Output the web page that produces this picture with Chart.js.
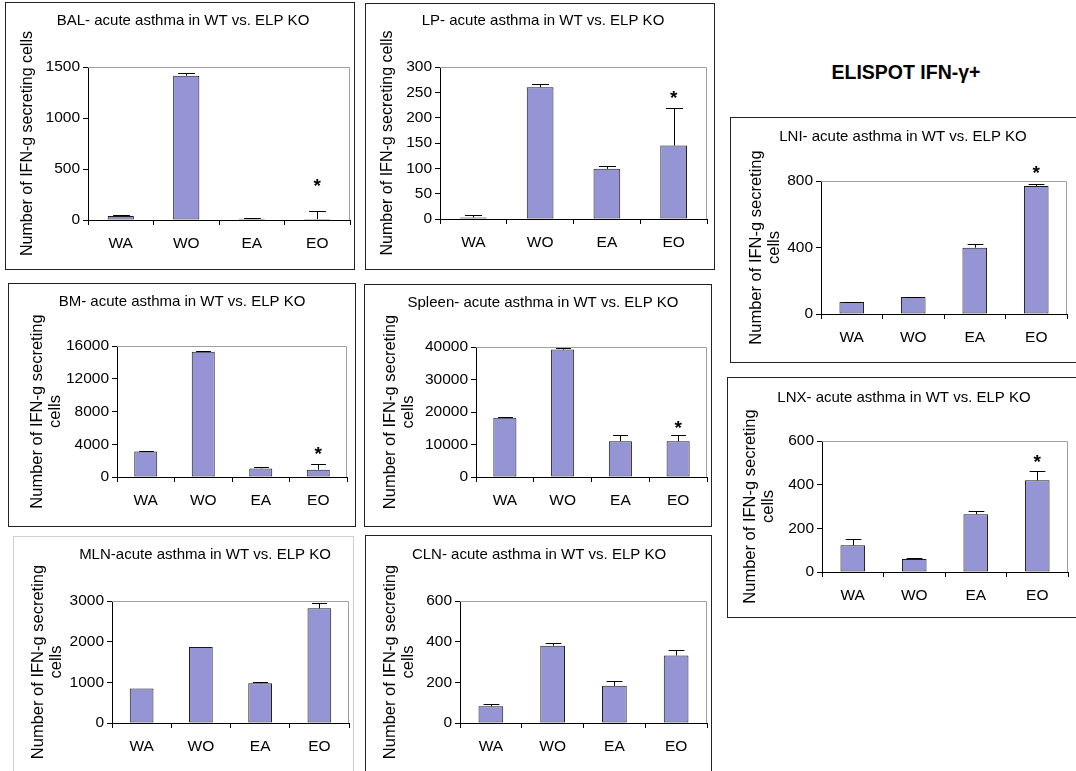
<!DOCTYPE html>
<html>
<head>
<meta charset="utf-8">
<title>ELISPOT IFN-γ+</title>
<script src="https://cdn.jsdelivr.net/npm/chart.js@4.4.1/dist/chart.umd.min.js"></script>
<style>
  body { margin: 0; background: #fff; }
  #page { position: relative; width: 1076px; height: 771px; overflow: hidden; font-family: "Liberation Sans", Arial, sans-serif; }
  .box { position: absolute; box-sizing: border-box; border: 1.5px solid #222; }
  canvas { position: absolute; }
  #heading { position: absolute; left: 796px; top: 62px; width: 220px; text-align: center; font-weight: bold; font-size: 19.5px; line-height: 20px; color: #000; }
</style>
</head>
<body>
<div id="page">
  <div id="heading">ELISPOT IFN-γ+</div>
</div>
<script>
const groups = ["WA", "WO", "EA", "EO"];

// BAL
const balCells = [38, 1415, 12, 10];
const balSem = [8, 25, 8, 80];
const balStars = [null, null, null, 380];
const balTicks = [0, 500, 1000, 1500];

// LP
const lpCells = [3, 260, 99, 145];
const lpSem = [4, 7, 5, 75];
const lpStars = [null, null, null, 248];
const lpTicks = [0, 50, 100, 150, 200, 250, 300];

// LNI
const lniCells = [72, 102, 399, 770];
const lniSem = [2, 2, 24, 14];
const lniStars = [null, null, null, 878];
const lniTicks = [0, 400, 800];

// BM
const bmCells = [3120, 15300, 1050, 900];
const bmSem = [40, 60, 180, 700];
const bmStars = [null, null, null, 3400];
const bmTicks = [0, 4000, 8000, 12000, 16000];

// Spleen
const spleenCells = [18200, 39200, 11000, 11000];
const spleenSem = [150, 500, 2000, 2000];
const spleenStars = [null, null, null, 16600];
const spleenTicks = [0, 10000, 20000, 30000, 40000];

// LNX
const lnxCells = [122, 60, 265, 420];
const lnxSem = [28, 2, 15, 42];
const lnxStars = [null, null, null, 527];
const lnxTicks = [0, 200, 400, 600];

// MLN
const mlnCells = [850, 1870, 975, 2820];
const mlnSem = [0, 0, 25, 120];
const mlnStars = [null, null, null, null];
const mlnTicks = [0, 1000, 2000, 3000];

// CLN
const clnCells = [82, 380, 183, 332];
const clnSem = [12, 12, 25, 25];
const clnStars = [null, null, null, null];
const clnTicks = [0, 200, 400, 600];

const yLabelOne = ["Number of IFN-g secreting cells"];
const yLabelTwo = ["Number of IFN-g secreting", "cells"];

// box / plot = [left, top, right, bottom] on the page
const panels = [
  { title: "BAL- acute asthma in WT vs. ELP KO", cells: balCells, sem: balSem, stars: balStars, ticks: balTicks,
    yTitle: yLabelOne, box: [5, 2, 355, 270], plot: [88, 67, 350, 220], titleAt: [183, 21], yTitleX: 28 },
  { title: "LP- acute asthma in WT vs. ELP KO", cells: lpCells, sem: lpSem, stars: lpStars, ticks: lpTicks,
    yTitle: yLabelOne, box: [365, 3, 715, 270], plot: [440, 67, 707, 219], titleAt: [543, 21], yTitleX: 388 },
  { title: "LNI- acute asthma in WT vs. ELP KO", cells: lniCells, sem: lniSem, stars: lniStars, ticks: lniTicks,
    yTitle: yLabelTwo, box: [730, 117, 1080, 363], plot: [821, 181, 1067, 314], titleAt: [903, 137], yTitleX: 756 },
  { title: "BM- acute asthma in WT vs. ELP KO", cells: bmCells, sem: bmSem, stars: bmStars, ticks: bmTicks,
    yTitle: yLabelTwo, box: [8, 283, 356, 527], plot: [117, 346, 347, 477], titleAt: [182, 302], yTitleX: 37 },
  { title: "Spleen- acute asthma in WT vs. ELP KO", cells: spleenCells, sem: spleenSem, stars: spleenStars, ticks: spleenTicks,
    yTitle: yLabelTwo, box: [364, 284, 712, 527], plot: [476, 347, 707, 477], titleAt: [543, 303], yTitleX: 390 },
  { title: "LNX- acute asthma in WT vs. ELP KO", cells: lnxCells, sem: lnxSem, stars: lnxStars, ticks: lnxTicks,
    yTitle: yLabelTwo, box: [727, 377, 1080, 618], plot: [822, 441, 1068, 572], titleAt: [904, 398], yTitleX: 750 },
  { title: "MLN-acute asthma in WT vs. ELP KO", cells: mlnCells, sem: mlnSem, stars: mlnStars, ticks: mlnTicks,
    yTitle: yLabelTwo, box: [13, 536, 354, 780], plot: [112, 601, 349, 723], titleAt: [205, 555], yTitleX: 38, faint: true },
  { title: "CLN- acute asthma in WT vs. ELP KO", cells: clnCells, sem: clnSem, stars: clnStars, ticks: clnTicks,
    yTitle: yLabelTwo, box: [365, 535, 712, 772], plot: [460, 601, 707, 723], titleAt: [539, 555], yTitleX: 390 },
];

Chart.defaults.font.family = "'Liberation Sans', Arial, sans-serif";
Chart.defaults.color = "#000";

// grey top/right edge of the plot area
const plotFrame = {
  id: "plotFrame",
  beforeDatasetsDraw(chart) {
    const { ctx, chartArea: a } = chart;
    ctx.save();
    ctx.strokeStyle = "#a0a0a0";
    ctx.lineWidth = 1;
    ctx.beginPath();
    ctx.moveTo(a.left, Math.round(a.top) + 0.5);
    ctx.lineTo(Math.round(a.right) - 0.5, Math.round(a.top) + 0.5);
    ctx.lineTo(Math.round(a.right) - 0.5, a.bottom);
    ctx.stroke();
    ctx.restore();
  },
};

// upper error bars and significance stars
const errorBars = {
  id: "errorBars",
  afterDatasetsDraw(chart) {
    const ctx = chart.ctx;
    const yScale = chart.scales.y;
    const ds = chart.data.datasets[0];
    const meta = chart.getDatasetMeta(0);
    ctx.save();
    ctx.strokeStyle = "#000";
    ctx.fillStyle = "#000";
    ctx.lineWidth = 1;
    meta.data.forEach((bar, i) => {
      const x = Math.round(bar.x) + 0.5;
      const e = ds.sem[i];
      if (e) {
        const top = Math.round(yScale.getPixelForValue(ds.data[i] + e)) + 0.5;
        const cap = bar.width * 0.32;
        ctx.beginPath();
        ctx.moveTo(x, bar.y);
        ctx.lineTo(x, top);
        ctx.moveTo(x - cap, top);
        ctx.lineTo(x + cap, top);
        ctx.stroke();
      }
      const s = ds.stars[i];
      if (s != null) {
        ctx.font = "bold 19px 'Liberation Sans', Arial, sans-serif";
        ctx.textAlign = "center";
        ctx.textBaseline = "alphabetic";
        ctx.fillText("*", bar.x, yScale.getPixelForValue(s) + 0.58 * 19);
      }
    });
    ctx.restore();
  },
};

function drawPanel(p) {
  const page = document.getElementById("page");
  const [bx, by, bx2, by2] = p.box;
  const [px, py, px2, py2] = p.plot;

  const box = document.createElement("div");
  box.className = "box";
  box.style.left = bx + "px";
  box.style.top = by + "px";
  box.style.width = (bx2 - bx) + "px";
  box.style.height = (by2 - by) + "px";
  if (p.faint) box.style.borderColor = "#cfcfcf";
  page.appendChild(box);

  // extra room on the right so the (full width) title lands where it is in the figure
  const shift = Math.max(0, p.titleAt[0] - (bx + px2) / 2);
  const cw = Math.round(bx2 - bx + 2 * shift);
  const ch = by2 - by;
  const canvas = document.createElement("canvas");
  canvas.width = cw;
  canvas.height = ch;
  canvas.style.left = bx + "px";
  canvas.style.top = by + "px";
  page.appendChild(canvas);

  const titleSize = 15, titleLH = titleSize * 1.2;
  const titlePadTop = p.titleAt[1] - by - titleLH / 2;
  const titlePadBottom = (py - by) - titlePadTop - titleLH;
  const multi = p.yTitle.length > 1;
  const ySize = multi ? 16.5 : 16;
  const yLH = multi ? 1.1 : 1.2;
  const yTitlePad = p.yTitleX - bx - (ySize * yLH) / 2;
  const xHeight = 40;
  const t = p.ticks;

  new Chart(canvas, {
    type: "bar",
    data: {
      labels: groups,
      datasets: [{
        data: p.cells,
        sem: p.sem,
        stars: p.stars,
        yAxisID: "y",
        backgroundColor: "#9595d5",
        borderColor: "#1a1a1a",
        borderWidth: 1,
        borderSkipped: false,
        barPercentage: 0.4,
        categoryPercentage: 1,
      }],
    },
    options: {
      responsive: false,
      animation: false,
      devicePixelRatio: 1,
      layout: { padding: { left: 0, top: 0, right: bx2 - px2, bottom: by2 - py2 - xHeight } },
      plugins: {
        legend: { display: false },
        tooltip: { enabled: false },
        title: {
          display: true,
          text: p.title,
          color: "#000",
          font: { size: titleSize, weight: "normal", lineHeight: 1.2 },
          padding: { top: titlePadTop, bottom: titlePadBottom },
        },
      },
      scales: {
        x: {
          grid: { offset: true, drawOnChartArea: false, tickLength: 5, color: "#000" },
          border: { color: "#000", width: 1 },
          ticks: { font: { size: 15.5 }, color: "#000", padding: 9, maxRotation: 0 },
          afterFit: (s) => { s.height = xHeight; },
        },
        y: {
          min: t[0],
          max: t[t.length - 1],
          grid: { drawOnChartArea: false, tickLength: 5, color: "#000" },
          border: { color: "#000", width: 1 },
          ticks: { stepSize: t[1] - t[0], font: { size: 15.5 }, color: "#000", padding: 3, callback: (v) => String(v) },
          title: { display: true, text: p.yTitle, color: "#000", font: { size: ySize, lineHeight: yLH }, padding: { top: yTitlePad, bottom: 0 } },
          afterFit: (s) => { s.width = px - bx; },
        },
        spacer: {
          position: "right",
          display: shift > 0,
          grid: { display: false },
          border: { display: false },
          ticks: { display: false },
          afterFit: (s) => { s.width = 2 * shift; },
        },
      },
    },
    plugins: [plotFrame, errorBars],
  });
}

panels.forEach(drawPanel);
</script>
</body>
</html>
